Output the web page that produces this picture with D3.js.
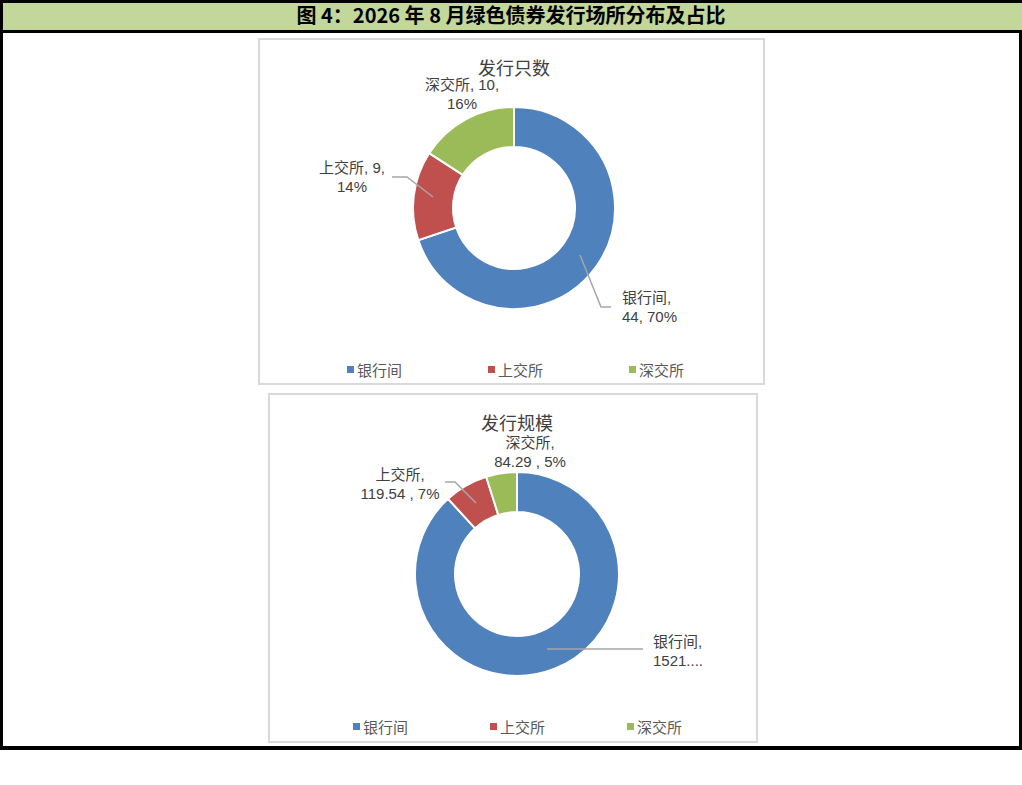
<!DOCTYPE html>
<html><head><meta charset="utf-8">
<script src="https://cdn.jsdelivr.net/npm/d3@7"></script>
<style>body{margin:0;background:#fff;} svg{display:block;}</style>
</head><body>
<svg id="c" width="1022" height="785"></svg>
<script>
const categories = ["银行间", "上交所", "深交所"];
const countValues = [44, 9, 10];
const countPercents = ["70%", "14%", "16%"];
const scaleValues = [1521.47, 119.54, 84.29];
const scaleLabels = ["1521....", "119.54 , 7%", "84.29 , 5%"];
const colors = ["#4f81bd", "#c0504d", "#9bbb59"];
const titleText = "图 4：2026 年 8 月绿色债券发行场所分布及占比";

const svg = d3.select("#c");
const font = "'Liberation Sans','Noto Sans CJK SC',sans-serif";

// outer frame
svg.append("rect").attr("x",0).attr("y",0).attr("width",1022).attr("height",32).attr("fill","#c4d79b");
svg.append("rect").attr("x",0).attr("y",0).attr("width",1022).attr("height",3).attr("fill","#000");
svg.append("rect").attr("x",0).attr("y",30).attr("width",1022).attr("height",3).attr("fill","#000");
svg.append("rect").attr("x",0).attr("y",0).attr("width",3).attr("height",750).attr("fill","#000");
svg.append("rect").attr("x",1019).attr("y",30).attr("width",3).attr("height",720).attr("fill","#000");
svg.append("rect").attr("x",0).attr("y",746).attr("width",1022).attr("height",4).attr("fill","#000");
svg.append("text").attr("x",511).attr("y",23).attr("text-anchor","middle")
  .attr("font-family","'Noto Sans CJK SC',sans-serif").attr("font-weight","bold").attr("font-size",20)
  .attr("fill","#000").text(titleText);

function donut(cfg){
  const g = svg.append("g");
  g.append("rect").attr("x",cfg.px).attr("y",cfg.py).attr("width",cfg.pw).attr("height",cfg.ph)
    .attr("fill","#fff").attr("stroke","#d9d9d9").attr("stroke-width",2);
  g.append("text").attr("x",cfg.cx).attr("y",cfg.ty).attr("text-anchor","middle")
    .attr("font-family",font).attr("font-size",18).attr("fill","#404040").text(cfg.title);
  const pie = d3.pie().sort(null).value(d=>d)(cfg.values);
  const arc = d3.arc().innerRadius(cfg.ri).outerRadius(cfg.ro);
  const cg = g.append("g").attr("transform",`translate(${cfg.cx},${cfg.cy})`);
  cg.selectAll("path").data(pie).join("path").attr("d",arc)
    .attr("fill",(d,i)=>colors[i]).attr("stroke","#fff").attr("stroke-width",2);
  // leader lines
  cfg.leaders.forEach(pts=>{
    g.append("polyline").attr("points",pts.map(p=>p.join(",")).join(" "))
      .attr("fill","none").attr("stroke","#a6a6a6").attr("stroke-width",1.5);
  });
  // labels
  cfg.labels.forEach(l=>{
    const t = g.append("text").attr("font-family",font).attr("font-size",15).attr("fill","#404040")
      .attr("text-anchor",l.anchor||"middle");
    l.lines.forEach((s,k)=>t.append("tspan").attr("x",l.x).attr("y",l.y+k*19).text(s));
  });
  // legend
  const lx = cfg.legendX;
  categories.forEach((c,i)=>{
    g.append("rect").attr("x",lx[i]).attr("y",cfg.ly-4).attr("width",7).attr("height",7).attr("fill",colors[i]);
    g.append("text").attr("x",lx[i]+10).attr("y",cfg.ly+6).attr("font-family",font).attr("font-size",15)
      .attr("fill","#595959").text(c);
  });
}

donut({px:259,py:39,pw:505,ph:345,cx:514,cy:208,ri:61,ro:101,ty:75,title:"发行只数",
  values:countValues,
  leaders:[[[392,177],[407,177],[433,197]],[[580,255],[601,307],[611,307]]],
  labels:[
    {x:462,y:90,lines:[categories[2]+", "+countValues[2]+",", countPercents[2]]},
    {x:352,y:173,lines:[categories[1]+", "+countValues[1]+",", countPercents[1]]},
    {x:622,y:303,anchor:"start",lines:[categories[0]+",", countValues[0]+", "+countPercents[0]]}
  ],
  legendX:[347,488,629], ly:370});

donut({px:269,py:394,pw:488,ph:348,cx:517,cy:574,ri:62,ro:102,ty:430,title:"发行规模",
  values:scaleValues,
  leaders:[[[445,482],[455,482],[476,503]],[[547,649],[643,649]]],
  labels:[
    {x:530,y:448,lines:[categories[2]+",", scaleLabels[2]]},
    {x:400,y:480,lines:[categories[1]+",", scaleLabels[1]]},
    {x:653,y:647,anchor:"start",lines:[categories[0]+",", scaleLabels[0]]}
  ],
  legendX:[353,490,627], ly:727});
</script>
</body></html>
